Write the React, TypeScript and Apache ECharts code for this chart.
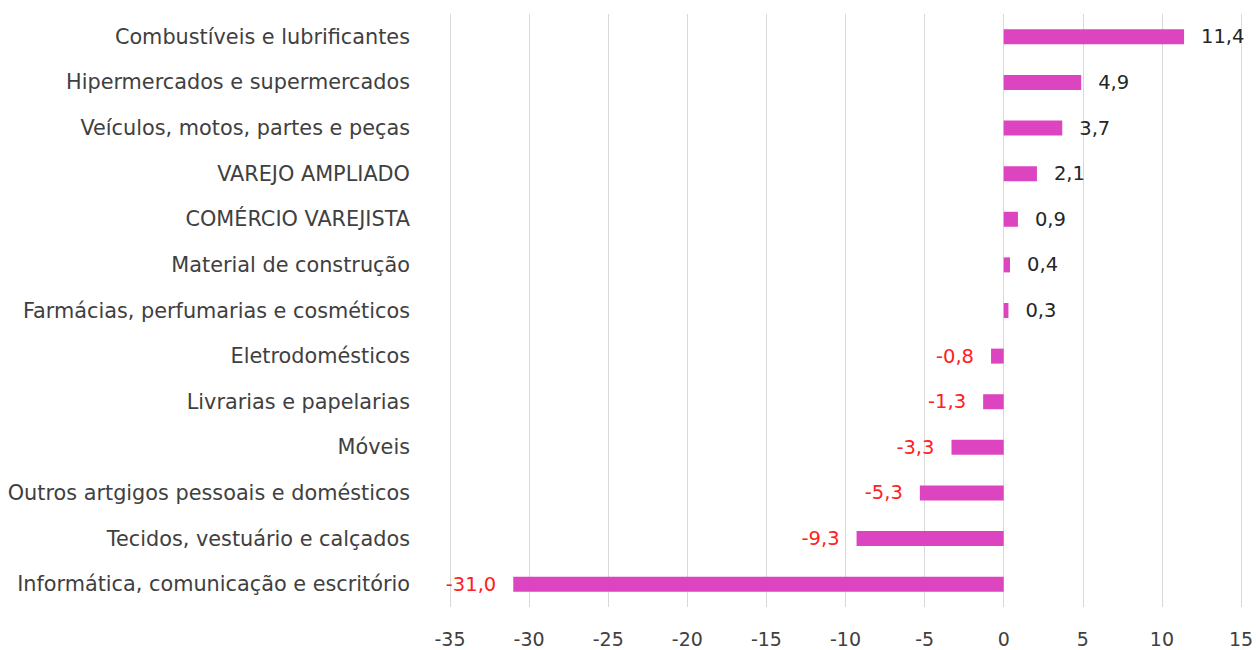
import React, { useEffect, useRef } from "react";
import * as echarts from "echarts";

const categories = [
  "Combustíveis e lubrificantes",
  "Hipermercados e supermercados",
  "Veículos, motos, partes e peças",
  "VAREJO AMPLIADO",
  "COMÉRCIO VAREJISTA",
  "Material de construção",
  "Farmácias, perfumarias e cosméticos",
  "Eletrodomésticos",
  "Livrarias e papelarias",
  "Móveis",
  "Outros artgigos pessoais e domésticos",
  "Tecidos, vestuário e calçados",
  "Informática, comunicação e escritório",
];

const values = [11.4, 4.9, 3.7, 2.1, 0.9, 0.4, 0.3, -0.8, -1.3, -3.3, -5.3, -9.3, -31.0];

const xMin = -35;
const xMax = 15;
const xStep = 5;

const fmt = (v: number) => v.toFixed(1).replace(".", ",");

export default function App() {
  const ref = useRef<HTMLDivElement>(null);
  useEffect(() => {
    if (!ref.current) return;
    const chart = echarts.init(ref.current, null, { renderer: "svg" });
    const font = "'DejaVu Sans', 'Open Sans', sans-serif";
    chart.setOption({
      animation: false,
      grid: {
        left: 450,
        right: 15,
        top: 14,
        bottom: 43,
        containLabel: false,
        outerBoundsMode: "none",
      },
      xAxis: {
        type: "value",
        min: xMin,
        max: xMax,
        interval: xStep,
        axisLine: { show: false },
        axisTick: { show: false },
        splitLine: { show: true, lineStyle: { color: "#d9d9d9", width: 1 } },
        axisLabel: { color: "#404040", fontSize: 19, fontFamily: font, margin: 22 },
      },
      yAxis: {
        type: "category",
        data: categories,
        inverse: true,
        axisLine: { show: false },
        axisTick: { show: false },
        axisLabel: { color: "#404040", fontSize: 20.8, fontFamily: font, margin: 40 },
      },
      series: [
        {
          type: "bar",
          barWidth: 15,
          itemStyle: { color: "#dd44c0" },
          data: values.map((v) => ({
            value: v,
            label: {
              show: true,
              position: v >= 0 ? "right" : "left",
              distance: v >= 0 ? 17 : 17,
              color: v >= 0 ? "#262626" : "#ff2020",
              fontSize: 19.5,
              fontFamily: font,
              formatter: () => fmt(v),
            },
          })),
        },
      ],
    });
    return () => chart.dispose();
  }, []);
  return (
    <div
      ref={ref}
      style={{ position: "absolute", left: 0, top: 0, width: 1256, height: 650 }}
    />
  );
}
